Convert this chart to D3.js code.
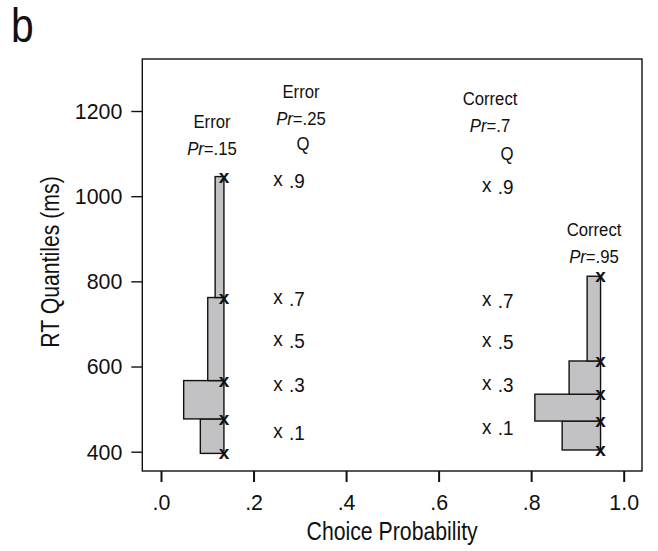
<!DOCTYPE html>
<html>
<head>
<meta charset="utf-8">
<script src="https://cdn.jsdelivr.net/npm/d3@7"></script>
<style>
  body { margin: 0; background: #fff; }
  svg text { font-family: "Liberation Sans", Arial, sans-serif; fill: #111; }
</style>
</head>
<body>
<div id="chart"></div>
<script>
// axis ticks
var xTicks = [0, 0.2, 0.4, 0.6, 0.8, 1.0];
var xTickLabels = [".0", ".2", ".4", ".6", ".8", "1.0"];
var yTicks = [400, 600, 800, 1000, 1200];

// quantile levels
var quantiles = [".1", ".3", ".5", ".7", ".9"];

// error responses, Pr=.15 (histogram)
var errLowPr = 0.136;
var errLowRT = [396, 477, 567, 762, 1046];
var errLowWidths = [0.051, 0.087, 0.035, 0.019];

// correct responses, Pr=.95 (histogram)
var corHighPr = 0.95;
var corHighRT = [404, 472, 535, 613, 812];
var corHighWidths = [0.083, 0.142, 0.068, 0.029];

// error responses, Pr=.25 (quantiles only)
var errMidPr = 0.253;
var errMidRT = [446, 557, 662, 761, 1038];

// correct responses, Pr=.7 (quantiles only)
var corMidPr = 0.704;
var corMidRT = [456, 559, 660, 756, 1024];

// squeeze text horizontally (no condensed font installed)
function condense(sel, sx) {
    sel.each(function() {
        var t = d3.select(this);
        var tx = +t.attr("x") || 0, ty = +t.attr("y") || 0;
        var pre = t.attr("transform") || ("translate(" + tx + "," + ty + ")");
        if (!t.attr("transform")) { t.attr("x", 0).attr("y", 0); }
        t.attr("transform", pre + " scale(" + sx + ",1)");
    });
}

function drawChart() {
    var W = 658, H = 551;
    var svg = d3.select("#chart").append("svg")
        .attr("width", W)
        .attr("height", H);

    var x = d3.scaleLinear().domain([0, 1]).range([161, 623.7]);
    var y = d3.scaleLinear().domain([400, 1200]).range([451.7, 111]);

    // frame limits (in data units)
    var xLo = x.invert(142.3), xHi = x.invert(642);
    var yLo = y.invert(471), yHi = y.invert(59);

    svg.append("rect")
        .attr("x", x(xLo))
        .attr("y", y(yHi))
        .attr("width", x(xHi) - x(xLo))
        .attr("height", y(yLo) - y(yHi))
        .attr("fill", "none")
        .attr("stroke", "#111")
        .attr("stroke-width", 1.4);

    // y axis
    var yAxis = svg.append("g")
        .attr("transform", "translate(" + x(xLo) + ",0)")
        .call(d3.axisLeft(y).tickValues(yTicks).tickSize(11).tickPadding(9)
            .tickFormat(d3.format("d")));
    yAxis.select(".domain").remove();
    yAxis.selectAll("line").attr("stroke", "#111").attr("stroke-width", 1.4);
    yAxis.selectAll("text")
        .attr("font-size", 23)
        .attr("fill", "#111")
        .attr("font-family", null);
    condense(yAxis.selectAll("text"), 0.93);

    // x axis
    var xAxis = svg.append("g")
        .attr("transform", "translate(0," + y(yLo) + ")")
        .call(d3.axisBottom(x).tickValues(xTicks).tickSize(11).tickPadding(12)
            .tickFormat(function(d, i) { return xTickLabels[i]; }));
    xAxis.select(".domain").remove();
    xAxis.selectAll("line").attr("stroke", "#111").attr("stroke-width", 2);
    xAxis.selectAll("text")
        .attr("font-size", 23)
        .attr("fill", "#111")
        .attr("font-family", null);
    condense(xAxis.selectAll("text"), 0.93);

    // axis titles
    var xt = svg.append("text")
        .attr("x", (x(xLo) + x(xHi)) / 2)
        .attr("y", 540)
        .attr("text-anchor", "middle")
        .attr("font-size", 25)
        .text("Choice Probability");
    condense(xt, 0.85);

    svg.append("text")
        .attr("transform", "translate(59,262) rotate(-90) scale(0.85,1)")
        .attr("text-anchor", "middle")
        .attr("font-size", 25)
        .text("RT Quantiles (ms)");

    // panel letter
    var b = svg.append("text")
        .attr("x", 11)
        .attr("y", 42)
        .attr("font-size", 48)
        .text("b");
    condense(b, 0.85);

    // histograms
    function drawHist(pr, rts, widths) {
        var g = svg.append("g");
        g.selectAll("rect")
            .data(widths)
          .enter().append("rect")
            .attr("x", function(d) { return x(pr - d); })
            .attr("width", function(d) { return x(pr) - x(pr - d); })
            .attr("y", function(d, i) { return y(rts[i + 1]); })
            .attr("height", function(d, i) { return y(rts[i]) - y(rts[i + 1]); })
            .attr("fill", "#c2c2c4")
            .attr("stroke", "#111")
            .attr("stroke-width", 1.4);
        g.selectAll(".mark")
            .data(rts)
          .enter().append("text")
            .attr("class", "mark")
            .attr("x", x(pr))
            .attr("y", function(d) { return y(d); })
            .attr("dy", "0.32em")
            .attr("text-anchor", "middle")
            .attr("font-size", 19)
            .attr("font-weight", "bold")
            .text("x");
    }
    drawHist(errLowPr, errLowRT, errLowWidths);
    drawHist(corHighPr, corHighRT, corHighWidths);

    // quantile columns with labels
    function drawQuantiles(pr, rts) {
        var g = svg.append("g");
        var m = g.selectAll(".mark")
            .data(rts)
          .enter().append("text")
            .attr("class", "mark")
            .attr("x", x(pr))
            .attr("y", function(d) { return y(d); })
            .attr("dy", "0.28em")
            .attr("text-anchor", "middle")
            .attr("font-size", 21)
            .text("x");
        condense(m, 0.9);
        var l = g.selectAll(".qlab")
            .data(rts)
          .enter().append("text")
            .attr("class", "qlab")
            .attr("x", x(pr) + 11)
            .attr("y", function(d) { return y(d); })
            .attr("dy", "0.36em")
            .attr("font-size", 21)
            .text(function(d, i) { return quantiles[i]; });
        condense(l, 0.9);
    }
    drawQuantiles(errMidPr, errMidRT);
    drawQuantiles(corMidPr, corMidRT);

    // condition labels
    function label(cx, yy, cond, pr, q, qy, qx) {
        var a = svg.append("text")
            .attr("x", cx).attr("y", yy)
            .attr("text-anchor", "middle")
            .attr("font-size", 19)
            .text(cond);
        condense(a, 0.88);
        var t = svg.append("text")
            .attr("x", cx).attr("y", yy + 27)
            .attr("text-anchor", "middle")
            .attr("font-size", 19);
        t.append("tspan").attr("font-style", "italic").text("Pr");
        t.append("tspan").text("=" + pr);
        condense(t, 0.88);
        if (q) {
            var qq = svg.append("text")
                .attr("x", qx).attr("y", qy)
                .attr("text-anchor", "middle")
                .attr("font-size", 19)
                .text("Q");
            condense(qq, 0.88);
        }
    }
    label(212, 128, "Error", ".15");
    label(301, 98, "Error", ".25", true, 150, 303);
    label(490, 105, "Correct", ".7", true, 160, 507);
    label(594, 236, "Correct", ".95");
}

drawChart();
</script>
</body>
</html>
